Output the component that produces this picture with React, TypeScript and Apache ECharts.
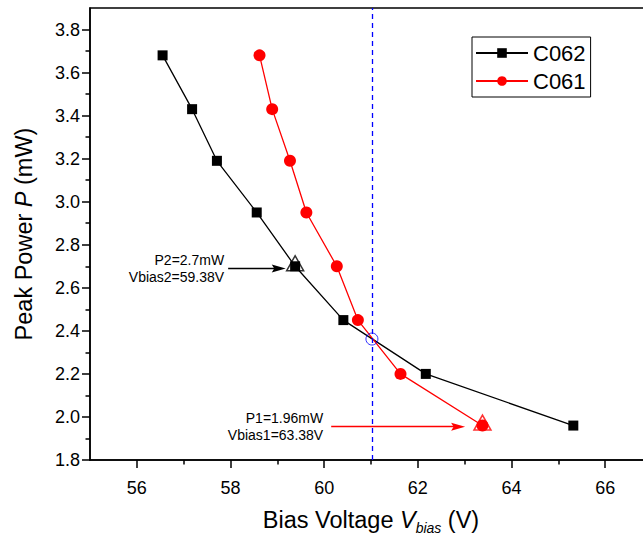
import React, { useEffect, useRef } from 'react';
import * as echarts from 'echarts';

// ---- data ----
const seriesNames = ['C062', 'C061'];
const vBiasC062 = [56.55, 57.18, 57.71, 58.56, 59.38, 60.41, 62.17, 65.32];
const powerC062 = [3.68, 3.43, 3.19, 2.95, 2.7, 2.45, 2.2, 1.96];
const vBiasC061 = [58.62, 58.89, 59.27, 59.62, 60.27, 60.72, 61.63, 63.38];
const powerC061 = [3.68, 3.43, 3.19, 2.95, 2.7, 2.45, 2.2, 1.96];

const xMajorTicks = [56, 58, 60, 62, 64, 66];
const xMinorTicks = [57, 59, 61, 63, 65, 67];
const yMajorTicks = [1.8, 2.0, 2.2, 2.4, 2.6, 2.8, 3.0, 3.2, 3.4, 3.6, 3.8];
const yMinorTicks = [1.9, 2.1, 2.3, 2.5, 2.7, 2.9, 3.1, 3.3, 3.5, 3.7];

// crossing point and guide line
const crossVbias = 61.02;
const crossPower = 2.362;

// highlighted operating points (triangles)
const p2Point = [59.38, 2.7];
const p1Point = [63.38, 1.96];

// annotation arrows: [startV, endV, power]
const p2Arrow = [57.95, 59.03, 2.69];
const p1Arrow = [60.15, 62.86, 1.955];
const p2Text = 'P2=2.7mW\nVbias2=59.38V';
const p1Text = 'P1=1.96mW\nVbias1=63.38V';

const FONT = '"Liberation Sans", Arial, Helvetica, sans-serif';
const ARROW = 'path://M7,0 L11,14 L7,11.5 L3,14 Z M0,0 L0.01,0 L0,0.01 Z M14,0 L14.01,0 L14,0.01 Z';

function zip(xs: number[], ys: number[]) {
  return xs.map((x, i) => [x, ys[i]]);
}

function arrowLine(a: number[], text: string, color: string, dist: number) {
  return [
    {
      coord: [a[0], a[2]],
      symbol: 'none',
      lineStyle: { color, width: 1.3, type: 'solid' },
      label: {
        show: true,
        position: 'start',
        distance: dist,
        formatter: text,
        fontSize: 14,
        lineHeight: 17,
        color: '#000',
        fontFamily: FONT,
      },
    },
    { coord: [a[1], a[2]], symbol: ARROW, symbolSize: 14, itemStyle: { color } },
  ];
}

export default function App() {
  const ref = useRef<HTMLDivElement>(null);
  useEffect(() => {
    const chart = echarts.init(ref.current!, null, { renderer: 'svg' });
    const axisLineStyle = { color: '#000', width: 1.5 };
    const option: any = {
      animation: false,
      backgroundColor: '#fff',
      textStyle: { fontFamily: FONT },
      grid: {
        left: 90,
        right: -9,
        top: 8,
        bottom: 76,
        show: true,
        borderColor: '#000',
        borderWidth: 1.5,
        outerBoundsMode: 'none',
      },
      legend: {
        data: seriesNames,
        orient: 'vertical',
        left: 472,
        top: 37,
        itemWidth: 52,
        itemHeight: 12,
        itemGap: 6,
        padding: [5, 5, 5, 3],
        borderColor: '#000',
        borderWidth: 1,
        textStyle: { fontSize: 22, color: '#000', fontFamily: FONT, padding: [0, 0, 0, 0] },
        itemStyle: { borderWidth: 0 },
      },
      xAxis: [
        {
          type: 'value',
          min: 55,
          max: 67,
          position: 'bottom',
          axisLine: { show: true, lineStyle: axisLineStyle },
          axisTick: { show: true, inside: false, length: 8, customValues: xMajorTicks, lineStyle: axisLineStyle },
          axisLabel: { customValues: xMajorTicks, fontSize: 18, color: '#000', margin: 19, fontFamily: FONT },
          splitLine: { show: false },
          name: '{a|Bias Voltage }{i|V}{s|bias}{a| (V)}',
          nameLocation: 'middle',
          nameGap: 45,
          nameTextStyle: {
            rich: {
              a: { fontSize: 23.5, lineHeight: 30, color: '#000', fontFamily: FONT, verticalAlign: 'middle' },
              i: { fontSize: 23.5, lineHeight: 30, color: '#000', fontFamily: FONT, fontStyle: 'italic', verticalAlign: 'middle' },
              s: { fontSize: 14, lineHeight: 14, color: '#000', fontFamily: FONT, fontStyle: 'italic', verticalAlign: 'bottom' },
            },
          },
        },
        {
          type: 'value',
          min: 55,
          max: 67,
          position: 'bottom',
          axisLine: { show: false },
          axisTick: { show: true, inside: false, length: 4.5, customValues: xMinorTicks, lineStyle: axisLineStyle },
          axisLabel: { show: false },
          splitLine: { show: false },
        },
      ],
      yAxis: [
        {
          type: 'value',
          min: 1.8,
          max: 3.9,
          position: 'left',
          axisLine: { show: true, lineStyle: axisLineStyle },
          axisTick: { show: true, inside: false, length: 8, customValues: yMajorTicks, lineStyle: axisLineStyle },
          axisLabel: {
            customValues: yMajorTicks,
            fontSize: 18,
            color: '#000',
            margin: 10,
            fontFamily: FONT,
            formatter: (v: number) => v.toFixed(1),
          },
          splitLine: { show: false },
          name: '{a|Peak Power }{i|P}{a| (mW)}',
          nameLocation: 'middle',
          nameGap: 54,
          nameTextStyle: {
            rich: {
              a: { fontSize: 23.5, color: '#000', fontFamily: FONT },
              i: { fontSize: 23.5, color: '#000', fontFamily: FONT, fontStyle: 'italic' },
            },
          },
        },
        {
          type: 'value',
          min: 1.8,
          max: 3.9,
          position: 'left',
          axisLine: { show: false },
          axisTick: { show: true, inside: false, length: 4.5, customValues: yMinorTicks, lineStyle: axisLineStyle },
          axisLabel: { show: false },
          splitLine: { show: false },
        },
      ],
      series: [
        {
          name: 'C062',
          type: 'line',
          data: zip(vBiasC062, powerC062),
          symbol: 'rect',
          symbolSize: 10,
          lineStyle: { color: '#000', width: 1.3 },
          itemStyle: { color: '#000' },
          z: 3,
          markLine: {
            silent: true,
            animation: false,
            symbol: 'none',
            label: { show: false },
            data: [
              {
                xAxis: crossVbias,
                lineStyle: { color: '#0000ff', width: 1.3, type: [5, 4] },
                label: { show: false },
              },
              arrowLine(p2Arrow, p2Text, '#000', 4),
              arrowLine(p1Arrow, p1Text, '#ff0000', 8),
            ],
          },
        },
        {
          name: 'C061',
          type: 'line',
          data: zip(vBiasC061, powerC061),
          symbol: 'circle',
          symbolSize: 12,
          lineStyle: { color: '#ff0000', width: 1.3 },
          itemStyle: { color: '#ff0000' },
          z: 3,
        },
        {
          name: 'markers',
          type: 'scatter',
          symbol: 'triangle',
          symbolSize: [17, 15],
          symbolOffset: [0, -3],
          z: 4,
          data: [
            { value: p2Point, itemStyle: { color: 'rgba(0,0,0,0)', borderColor: '#000', borderWidth: 1.5 } },
            { value: p1Point, itemStyle: { color: 'rgba(0,0,0,0)', borderColor: '#ff0000', borderWidth: 1.5 } },
          ],
        },
        {
          name: 'cross',
          type: 'scatter',
          symbol: 'circle',
          symbolSize: 12,
          z: 5,
          data: [[crossVbias, crossPower]],
          itemStyle: { color: 'rgba(0,0,0,0)', borderColor: '#0000ff', borderWidth: 1 },
        },
      ],
    };
    chart.setOption(option);
    return () => chart.dispose();
  }, []);
  return (
    <div
      ref={ref}
      style={{ position: 'absolute', left: 0, top: 0, width: 643, height: 536, background: '#fff' }}
    />
  );
}
